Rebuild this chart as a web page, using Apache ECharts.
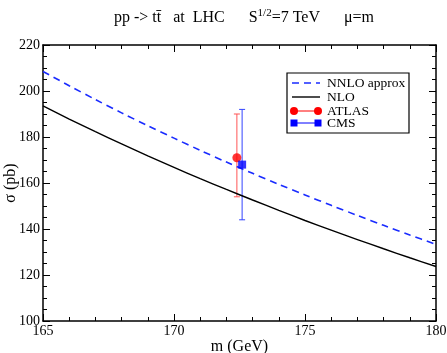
<!DOCTYPE html>
<html><head><meta charset="utf-8">
<script src="https://cdn.jsdelivr.net/npm/echarts@6/dist/echarts.min.js"></script>
<style>html,body{margin:0;padding:0;background:#fff}#c{width:447px;height:353px}</style>
</head><body><div id="c"></div>
<script>
const masses = [165,166,167,168,169,170,171,172,173,174,175,176,177,178,179,180];
const nnlo = [208.5,202.3,196.3,190.5,184.9,179.5,174.2,169.1,164.2,159.4,154.8,150.3,145.9,141.6,137.4,133.3];
const nlo  = [193.5,187.8,182.3,177.0,171.8,166.8,161.9,157.2,152.6,148.1,143.7,139.5,135.4,131.4,127.5,123.7];
const atlasM = [172.4], atlasVal = [171], atlasLo = [154], atlasHi = [190];
const cmsM = [172.6], cmsVal = [168], cmsLo = [144], cmsHi = [192];
const xTicks = [165,170,175,180];
const yTicks = [100,120,140,160,180,200,220];

const font = '"Liberation Serif","DejaVu Serif",serif';
const pair = (xs, ys) => xs.map((x,i)=>[x, ys[i]]);
const errData = (xs, lo, hi) => xs.map((x,i)=>[x, lo[i], hi[i]]);

function errRender(color){
  return function(params, api){
    const x = api.value(0);
    const p1 = api.coord([x, api.value(1)]);
    const p2 = api.coord([x, api.value(2)]);
    const cw = 3;
    const st = {stroke: color, lineWidth: 1};
    return {type:'group', children:[
      {type:'line', shape:{x1:p1[0],y1:p1[1],x2:p2[0],y2:p2[1]}, style:st},
      {type:'line', shape:{x1:p1[0]-cw,y1:p1[1],x2:p1[0]+cw,y2:p1[1]}, style:st},
      {type:'line', shape:{x1:p2[0]-cw,y1:p2[1],x2:p2[0]+cw,y2:p2[1]}, style:st}
    ]};
  };
}

const axisBase = {
  type:'value', min:165, max:180, interval:5,
  axisLine:{show:true, lineStyle:{color:'#000', width:1.5}},
  axisTick:{show:true, inside:true, length:7, lineStyle:{color:'#000', width:1}},
  minorTick:{show:true, splitNumber:5, length:4, lineStyle:{color:'#000', width:1}},
  splitLine:{show:false}
};
const yBase = {
  type:'value', min:100, max:220, interval:20,
  axisLine:{show:true, lineStyle:{color:'#000', width:1.5}},
  axisTick:{show:true, inside:true, length:7, lineStyle:{color:'#000', width:1}},
  minorTick:{show:true, splitNumber:4, length:4, lineStyle:{color:'#000', width:1}},
  splitLine:{show:false}
};

const chart = echarts.init(document.getElementById('c'), null, {renderer:'canvas'});
const lgX = 287, lgY = 73;
chart.setOption({
  animation:false,
  backgroundColor:'#fff',
  grid:{left:43, right:11, top:45, bottom:32, containLabel:false, outerBoundsMode:'none'},
  title:{
    text:'pp -> tt\u0304   at  LHC      S{sup|1/2}=7 TeV      μ=m',
    left:239, textAlign:'center', top:3,
    textStyle:{fontFamily:font, fontSize:16, fontWeight:'normal', color:'#000',
      rich:{
        sup:{fontFamily:font, fontSize:11, color:'#000', verticalAlign:'top', padding:[0,0,8,0]}
      }}
  },
  xAxis:[
    Object.assign({}, axisBase, {position:'bottom', name:'m (GeV)', nameLocation:'middle', nameGap:18,
      nameMoveOverlap:false,
      nameTextStyle:{fontFamily:font, fontSize:16, color:'#000'},
      axisLabel:{show:true, margin:3, fontFamily:font, fontSize:14, color:'#000',
        customValues: xTicks}}),
    Object.assign({}, axisBase, {position:'top', axisLabel:{show:false}})
  ],
  yAxis:[
    Object.assign({}, yBase, {position:'left', name:'σ (pb)', nameLocation:'middle', nameGap:24,
      nameMoveOverlap:false,
      nameTextStyle:{fontFamily:font, fontSize:16, color:'#000'},
      axisLabel:{show:true, margin:3, fontFamily:font, fontSize:14, color:'#000',
        customValues: yTicks}}),
    Object.assign({}, yBase, {position:'right', axisLabel:{show:false}})
  ],
  series:[
    {name:'NNLO approx', type:'line', data:pair(masses,nnlo), showSymbol:false, smooth:0.3,
      lineStyle:{color:'#1a2cff', width:1.6, type:[7,5]}},
    {name:'NLO', type:'line', data:pair(masses,nlo), showSymbol:false, smooth:0.3,
      lineStyle:{color:'#000', width:1.4}},
    {name:'ATLAS err', type:'custom', data:errData(atlasM, atlasLo, atlasHi), renderItem:errRender('#ff5555'), z:3},
    {name:'CMS err', type:'custom', data:errData(cmsM, cmsLo, cmsHi), renderItem:errRender('#3344ff'), z:3},
    {name:'ATLAS', type:'scatter', data:pair(atlasM, atlasVal), symbol:'circle', symbolSize:9,
      itemStyle:{color:'#ff0000'}, z:4},
    {name:'CMS', type:'scatter', data:pair(cmsM, cmsVal), symbol:'rect', symbolSize:8,
      itemStyle:{color:'#0000ff'}, z:4}
  ],
  graphic:[
    {type:'rect', shape:{x:lgX, y:lgY, width:122, height:60}, style:{fill:'#fff', stroke:'#000', lineWidth:1.2}, z:10},
    {type:'line', shape:{x1:292,y1:83,x2:320,y2:83}, style:{stroke:'#1a2cff', lineWidth:1.6, lineDash:[7,5]}, z:11},
    {type:'text', x:327, y:83, style:{text:'NNLO approx', font:'13.5px '+font, fill:'#000', textVerticalAlign:'middle'}, z:11},
    {type:'line', shape:{x1:292,y1:97,x2:320,y2:97}, style:{stroke:'#000', lineWidth:1.4}, z:11},
    {type:'text', x:327, y:97, style:{text:'NLO', font:'13.5px '+font, fill:'#000', textVerticalAlign:'middle'}, z:11},
    {type:'line', shape:{x1:294,y1:111,x2:318,y2:111}, style:{stroke:'#ff0000', lineWidth:1}, z:11},
    {type:'circle', shape:{cx:294, cy:111, r:4}, style:{fill:'#ff0000'}, z:12},
    {type:'circle', shape:{cx:318, cy:111, r:4}, style:{fill:'#ff0000'}, z:12},
    {type:'text', x:327, y:111, style:{text:'ATLAS', font:'13.5px '+font, fill:'#000', textVerticalAlign:'middle'}, z:11},
    {type:'line', shape:{x1:294,y1:123,x2:318,y2:123}, style:{stroke:'#0000ff', lineWidth:1}, z:11},
    {type:'rect', shape:{x:290.5, y:119.5, width:7, height:7}, style:{fill:'#0000ff'}, z:12},
    {type:'rect', shape:{x:314.5, y:119.5, width:7, height:7}, style:{fill:'#0000ff'}, z:12},
    {type:'text', x:327, y:123, style:{text:'CMS', font:'13.5px '+font, fill:'#000', textVerticalAlign:'middle'}, z:11}
  ]
});
</script></body></html>
